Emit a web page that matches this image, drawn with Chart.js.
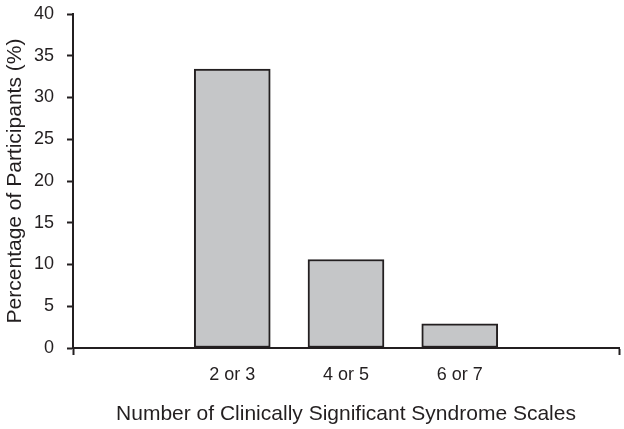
<!DOCTYPE html>
<html>
<head>
<meta charset="utf-8">
<script src="https://cdn.jsdelivr.net/npm/chart.js@4"></script>
<style>
  html, body { margin: 0; padding: 0; background: #fff; }
  #wrap { width: 624px; height: 429px; }
</style>
</head>
<body>
<div id="wrap"><canvas id="barChart" width="624" height="429"></canvas></div>
<script>
// data
const categories = ['2 or 3', '4 or 5', '6 or 7'];
const positions = [1, 2, 3];
const percentages = [33.4, 10.6, 2.9];
const yTicks = [0, 5, 10, 15, 20, 25, 30, 35, 40];

const ink = '#231f20';
const tickFont = { family: 'Liberation Sans, Arial, sans-serif', size: 18 };
const titleFont = { family: 'Liberation Sans, Arial, sans-serif', size: 21 };

const points = positions.map((p, i) => ({ x: p, y: percentages[i] }));

const ctx = document.getElementById('barChart').getContext('2d');
const chart = new Chart(ctx, {
    type: 'bar',
    data: {
        datasets: [{
            data: points,
            backgroundColor: '#c5c6c8',
            borderColor: ink,
            borderWidth: 2,
            borderSkipped: false,
            barThickness: 76
        }]
    },
    options: {
        responsive: false,
        animation: false,
        layout: { padding: { top: 14, right: 5, left: 0, bottom: 0 } },
        plugins: {
            legend: { display: false },
            tooltip: { enabled: false }
        },
        scales: {
            x: {
                type: 'linear',
                offset: false,
                min: -0.4,
                max: 4.4,
                afterBuildTicks: (scale) => {
                    // ends of the axis + one tick per category
                    scale.ticks = [scale.min].concat(positions, [scale.max]).map(v => ({ value: v }));
                },
                ticks: {
                    color: ink,
                    font: tickFont,
                    padding: 9,
                    maxRotation: 0,
                    autoSkip: false,
                    callback: (v) => {
                        const i = positions.indexOf(v);
                        return i >= 0 ? categories[i] : '';
                    }
                },
                grid: {
                    offset: false,
                    drawOnChartArea: false,
                    tickLength: 7,
                    tickWidth: 2,
                    tickColor: (c) => (c.index === 0 || c.index === positions.length + 1) ? ink : 'rgba(0,0,0,0)'
                },
                border: { color: ink, width: 2 },
                title: {
                    display: true,
                    text: 'Number of Clinically Significant Syndrome Scales',
                    color: ink,
                    font: titleFont,
                    padding: { top: 0, bottom: 2 }
                },
                afterFit: (scale) => {
                    scale.height = 81;
                    scale.paddingLeft = 0;
                    scale.paddingRight = 0;
                }
            },
            y: {
                min: 0,
                max: 40,
                afterBuildTicks: (scale) => {
                    scale.ticks = yTicks.map(v => ({ value: v }));
                },
                ticks: {
                    color: ink,
                    font: tickFont,
                    padding: 13
                },
                grid: {
                    drawOnChartArea: false,
                    tickLength: 6,
                    tickWidth: 2,
                    tickColor: ink
                },
                border: { color: ink, width: 2 },
                title: {
                    display: true,
                    text: 'Percentage of Participants (%)',
                    color: ink,
                    font: titleFont,
                    padding: { top: 3, bottom: 0 }
                },
                afterFit: (scale) => {
                    scale.width = 73;
                    scale.paddingTop = 0;
                    scale.paddingBottom = 0;
                }
            }
        }
    }
});
</script>
</body>
</html>
